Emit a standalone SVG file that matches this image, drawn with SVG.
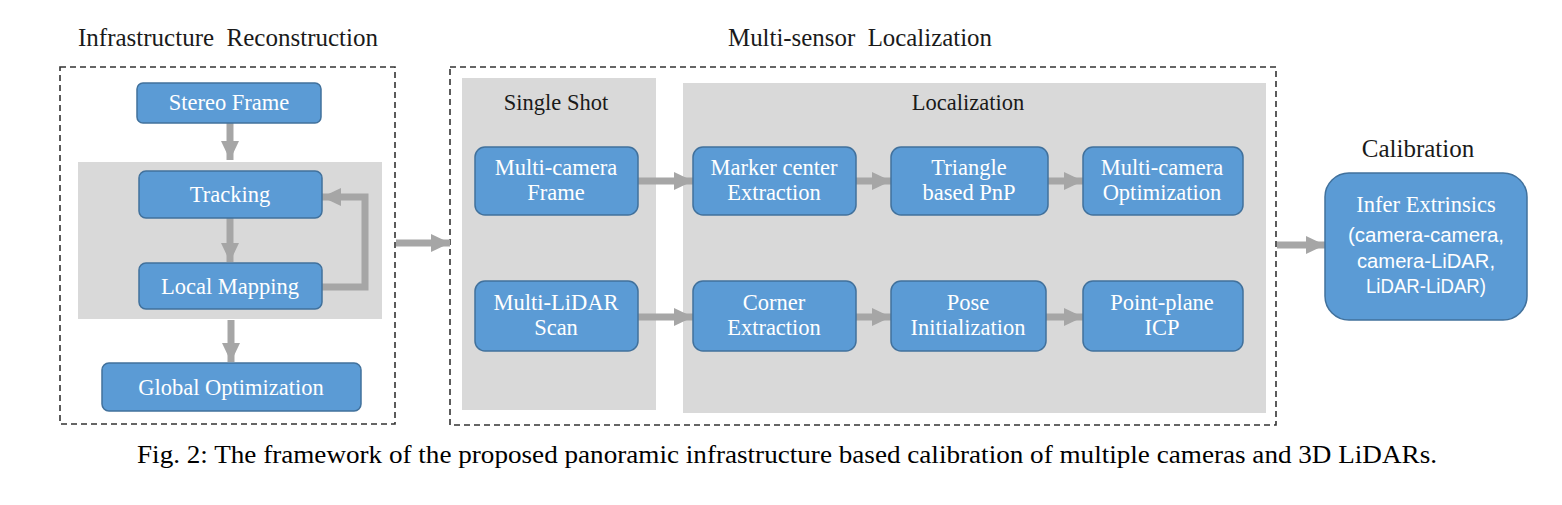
<svg xmlns="http://www.w3.org/2000/svg" width="1562" height="505" viewBox="0 0 1562 505">
<style>
.dash{fill:none;stroke:#333;stroke-width:1.6;stroke-dasharray:6 4}
.band{fill:#d9d9d9}
.node{fill:#5b9bd5;stroke:#41719c;stroke-width:1.5}
.t{font-family:"Liberation Serif","Times New Roman",serif;fill:#fff;font-size:22.5px;text-anchor:middle}
.s{font-family:"Liberation Sans",Arial,sans-serif;fill:#fff;font-size:20.5px;text-anchor:middle}
.h{font-family:"Liberation Serif","Times New Roman",serif;fill:#1a1a1a;font-size:25px;text-anchor:middle}
.hs{font-family:"Liberation Serif","Times New Roman",serif;fill:#1a1a1a;font-size:22.5px;text-anchor:middle}
.cap{font-family:"Liberation Serif","Times New Roman",serif;fill:#000;font-size:25px}
.c{fill:none;stroke:#a6a6a6;stroke-width:7;marker-end:url(#ah)}
</style>
<defs>
<marker id="ah" viewBox="0 0 19 18" refX="19" refY="9" markerWidth="19" markerHeight="18" markerUnits="userSpaceOnUse" orient="auto">
<path d="M0,0 L19,9 L0,18 z" fill="#a6a6a6"/>
</marker>
</defs>
<rect width="1562" height="505" fill="#fff"/>

<g id="titles">
<text class="h" x="228" y="46" textLength="300" lengthAdjust="spacingAndGlyphs" xml:space="preserve">Infrastructure  Reconstruction</text>
<text class="h" x="860" y="46" textLength="264" lengthAdjust="spacingAndGlyphs" xml:space="preserve">Multi-sensor  Localization</text>
<text class="h" x="1418" y="157">Calibration</text>
</g>

<g id="containers">
<rect class="dash" x="60" y="67" width="335" height="357"/>
<rect class="band" x="78" y="162" width="304" height="157"/>
<rect class="dash" x="450" y="67" width="826" height="358"/>
<rect class="band" x="462" y="78" width="194" height="332"/>
<rect class="band" x="683" y="83" width="583" height="330"/>
<text class="hs" x="556" y="110">Single Shot</text>
<text class="hs" x="968" y="110">Localization</text>
</g>

<g id="connectors">
<path class="c" d="M230,123 V160"/>
<path class="c" d="M230,218 V262"/>
<path class="c" d="M322,287 H365 V197 H322"/>
<path class="c" d="M231,320 V362"/>
<path class="c" d="M396,243 H450"/>
<path class="c" d="M638,181 H693"/>
<path class="c" d="M856,181 H891"/>
<path class="c" d="M1048,181 H1083"/>
<path class="c" d="M638,317 H693"/>
<path class="c" d="M856,317 H891"/>
<path class="c" d="M1046,317 H1083"/>
<path class="c" d="M1277,245 H1325"/>
</g>

<g id="stereo-frame"><rect class="node" x="137" y="83" width="184" height="40" rx="6"/><text class="t" x="229" y="110">Stereo Frame</text></g>
<g id="tracking"><rect class="node" x="139" y="171" width="183" height="47" rx="7"/><text class="t" x="230" y="202">Tracking</text></g>
<g id="local-mapping"><rect class="node" x="139" y="263" width="183" height="46" rx="7"/><text class="t" x="230" y="294">Local Mapping</text></g>
<g id="global-optimization"><rect class="node" x="102" y="363" width="259" height="48" rx="7"/><text class="t" x="231" y="395">Global Optimization</text></g>

<g id="multi-camera-frame"><rect class="node" x="475" y="147" width="163" height="68" rx="10"/><text class="t" x="556" y="175">Multi-camera</text><text class="t" x="556" y="200">Frame</text></g>
<g id="marker-center-extraction"><rect class="node" x="693" y="147" width="163" height="68" rx="10"/><text class="t" x="774" y="175">Marker center</text><text class="t" x="774" y="200">Extraction</text></g>
<g id="triangle-pnp"><rect class="node" x="891" y="147" width="157" height="68" rx="10"/><text class="t" x="969" y="175">Triangle</text><text class="t" x="969" y="200">based PnP</text></g>
<g id="multi-camera-optimization"><rect class="node" x="1083" y="147" width="160" height="68" rx="10"/><text class="t" x="1162" y="175">Multi-camera</text><text class="t" x="1162" y="200">Optimization</text></g>

<g id="multi-lidar-scan"><rect class="node" x="475" y="281" width="163" height="70" rx="10"/><text class="t" x="556" y="310">Multi-LiDAR</text><text class="t" x="556" y="335">Scan</text></g>
<g id="corner-extraction"><rect class="node" x="693" y="281" width="163" height="70" rx="10"/><text class="t" x="774" y="310">Corner</text><text class="t" x="774" y="335">Extraction</text></g>
<g id="pose-initialization"><rect class="node" x="891" y="281" width="155" height="70" rx="10"/><text class="t" x="968" y="310">Pose</text><text class="t" x="968" y="335">Initialization</text></g>
<g id="point-plane-icp"><rect class="node" x="1083" y="281" width="160" height="70" rx="10"/><text class="t" x="1162" y="310">Point-plane</text><text class="t" x="1162" y="335">ICP</text></g>

<g id="infer-extrinsics"><rect class="node" x="1325" y="173" width="202" height="147" rx="24"/>
<text class="t" x="1426" y="212">Infer Extrinsics</text>
<text class="s" x="1426" y="242" textLength="156" lengthAdjust="spacingAndGlyphs">(camera-camera,</text>
<text class="s" x="1426" y="268" textLength="138" lengthAdjust="spacingAndGlyphs">camera-LiDAR,</text>
<text class="s" x="1426" y="293" textLength="120" lengthAdjust="spacingAndGlyphs">LiDAR-LiDAR)</text>
</g>

<text class="cap" x="137" y="463" textLength="1300" lengthAdjust="spacingAndGlyphs">Fig. 2: The framework of the proposed panoramic infrastructure based calibration of multiple cameras and 3D LiDARs.</text>
</svg>
